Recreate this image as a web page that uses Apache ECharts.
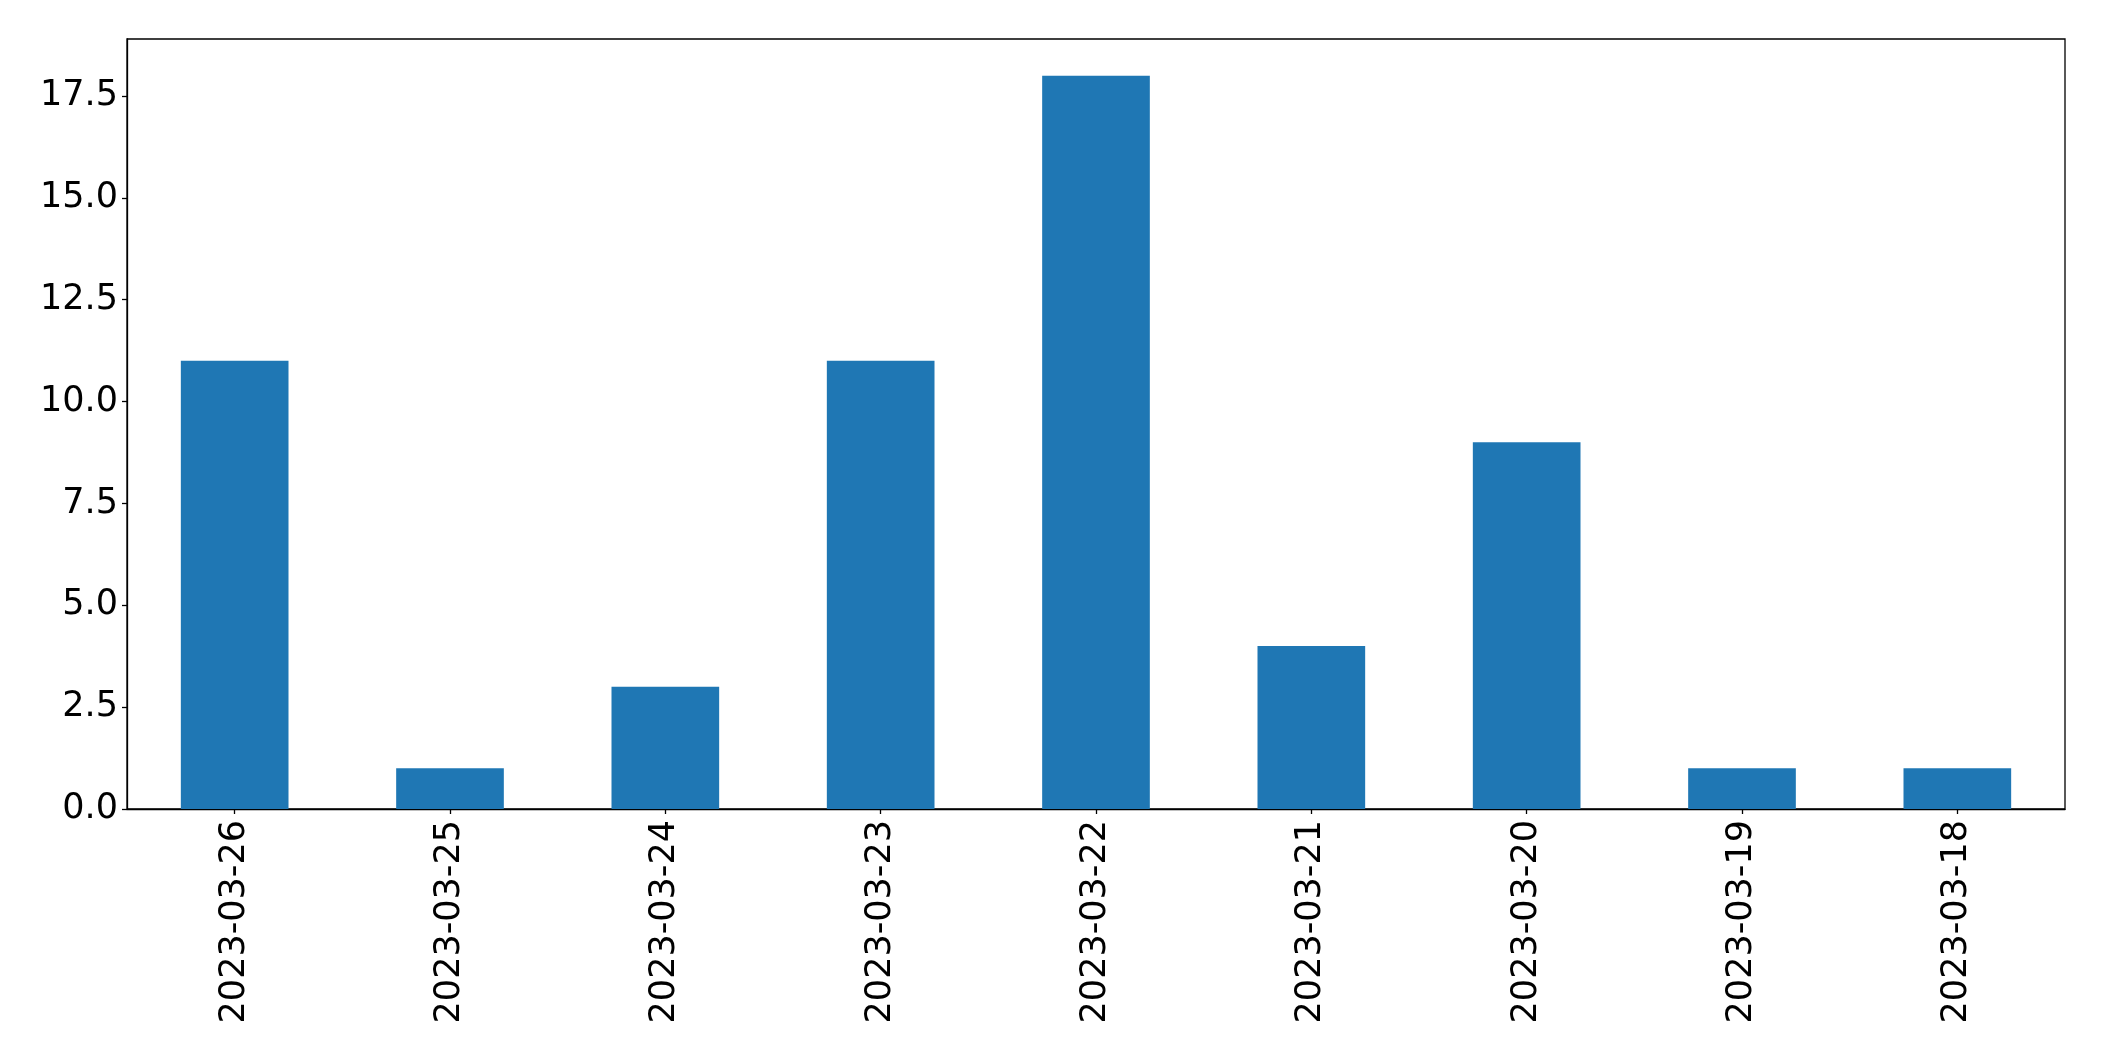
<!DOCTYPE html>
<html>
<head>
<meta charset="utf-8">
<script src="https://cdn.jsdelivr.net/npm/echarts@6/dist/echarts.min.js"></script>
<style>
  html, body { margin: 0; padding: 0; background: #fff; }
  #chart { width: 2104px; height: 1061px; }
</style>
</head>
<body>
<div id="chart"></div>
<script>
// 日期类别与数量
const dates = ['2023-03-26', '2023-03-25', '2023-03-24', '2023-03-23', '2023-03-22',
  '2023-03-21', '2023-03-20', '2023-03-19', '2023-03-18']
const counts = [11, 1, 3, 11, 18, 4, 9, 1, 1]
const yTicks = [0, 2.5, 5, 7.5, 10, 12.5, 15, 17.5]

const chart = echarts.init(document.getElementById('chart'))

const font = 'DejaVu Sans'

chart.setOption({
  backgroundColor: '#fff',
  animation: false,
  grid: {
    left: 127, right: 39, top: 39, bottom: 252,
    show: true, borderColor: '#000', borderWidth: 1.3
  },
  xAxis: {
    type: 'category',
    data: dates,
    boundaryGap: true,
    axisLine: { show: true, lineStyle: { color: '#000', width: 1.3 } },
    axisTick: { show: true, alignWithLabel: true, length: 5, lineStyle: { color: '#000', width: 1.3 } },
    axisLabel: {
      rotate: 90, margin: 11, color: '#000',
      fontFamily: font, fontSize: 35, interval: 0
    },
    splitLine: { show: false }
  },
  yAxis: {
    type: 'value',
    min: 0, max: 18.9,
    axisLine: { show: true, lineStyle: { color: '#000', width: 1.3 } },
    axisTick: { show: true, length: 5, lineStyle: { color: '#000', width: 1.3 }, customValues: yTicks },
    axisLabel: {
      margin: 9, color: '#000', fontFamily: font, fontSize: 35,
      customValues: yTicks,
      formatter: v => v.toFixed(1)
    },
    splitLine: { show: false }
  },
  series: [{
    type: 'bar',
    data: counts,
    barWidth: '50%',
    itemStyle: { color: '#1f77b4' }
  }]
})
</script>
</body>
</html>
